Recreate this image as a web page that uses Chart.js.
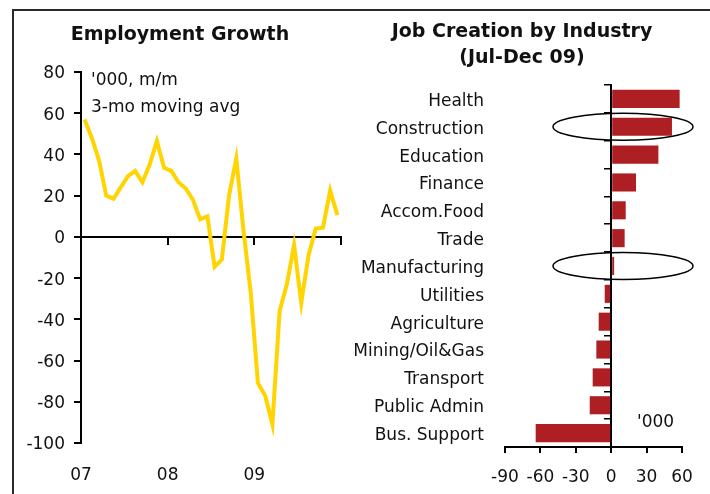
<!DOCTYPE html>
<html><head><meta charset="utf-8">
<script src="https://cdn.jsdelivr.net/npm/chart.js@4/dist/chart.umd.min.js"></script>
<style>
html,body{margin:0;padding:0;background:#fff;width:710px;height:494px;overflow:hidden;font-family:"DejaVu Sans",sans-serif;}
#frame{position:absolute;left:12px;top:9px;width:760px;height:520px;border-top:2px solid #2a2a2a;border-left:2px solid #2a2a2a;}
.c{position:absolute;top:0;width:355px;height:494px;}
.t{position:absolute;color:#111;white-space:nowrap;}
.title{font-weight:bold;font-size:19px;text-align:center;line-height:26px;}
.note{font-size:17px;line-height:27px;}
</style></head><body>
<div id="frame"></div>
<div class="c" style="left:0"><canvas id="c1" width="355" height="494"></canvas></div>
<div class="c" style="left:355px"><canvas id="c2" width="355" height="494"></canvas></div>
<div class="t title" style="left:0;width:360px;top:20px">Employment Growth</div>
<div class="t title" style="left:372px;width:300px;top:17px">Job Creation by Industry<br>(Jul-Dec 09)</div>
<div class="t note" style="left:91px;top:66px">'000, m/m<br>3-mo moving avg</div>
<div class="t note" style="left:637px;top:408px">'000</div>
<script>
// ---- data ----
const months = ['Jan 07','Feb 07','Mar 07','Apr 07','May 07','Jun 07','Jul 07','Aug 07','Sep 07','Oct 07','Nov 07','Dec 07',
  'Jan 08','Feb 08','Mar 08','Apr 08','May 08','Jun 08','Jul 08','Aug 08','Sep 08','Oct 08','Nov 08','Dec 08',
  'Jan 09','Feb 09','Mar 09','Apr 09','May 09','Jun 09','Jul 09','Aug 09','Sep 09','Oct 09','Nov 09','Dec 09'];
const employment = [57,48,37,20,18.5,24,29.5,32,26.5,35,46.5,33.5,
  32,26.5,23.5,18,8.5,10,-14.5,-11,20,38,3,-27,
  -71,-77,-91,-36,-23,-4,-32,-9,4,4.5,22.5,10.5];
const yearTicks = ['07','08','09'];
const empTicks = [-100,-80,-60,-40,-20,0,20,40,60,80];

const industries = ['Health','Construction','Education','Finance','Accom.Food','Trade','Manufacturing',
  'Utilities','Agriculture','Mining/Oil&Gas','Transport','Public Admin','Bus. Support'];
const jobs = [58,51.5,40,21,12.3,11.4,2.5,-5.5,-10.6,-12.6,-15.7,-18.2,-64];
const jobTicks = [-90,-60,-30,0,30,60];
const highlighted = ['Construction','Manufacturing'];

const FONT = {family:'DejaVu Sans', size:17};
const TXT = '#111';

// ---- left chart ----
new Chart(document.getElementById('c1'), {
  type:'line',
  data:{datasets:[{
    data: employment.map((v,i)=>({x:i+0.5, y:v})),
    borderColor:'#FFD400', borderWidth:4, pointRadius:0, tension:0,
    borderJoinStyle:'miter', xAxisID:'x', yAxisID:'y'
  }]},
  options:{
    responsive:false, animation:false, devicePixelRatio:1,
    layout:{padding:{left:0, top:72, right:14, bottom:0}},
    plugins:{legend:{display:false}, tooltip:{enabled:false}},
    scales:{
      x:{type:'linear', min:0, max:months.length, position:{y:0},
        ticks:{stepSize:12, display:false},
        grid:{drawOnChartArea:false, tickLength:7, color:'#000', lineWidth:2},
        border:{color:'#000', width:2}},
      x2:{type:'linear', min:0, max:months.length, position:'bottom',
        ticks:{stepSize:12, font:FONT, color:TXT, padding:14, maxRotation:0,
          callback:(v)=> yearTicks[v/12] ?? ''},
        grid:{display:false}, border:{display:false},
        afterFit:(s)=>{s.height=51;}},
      y:{min:empTicks[0], max:empTicks[empTicks.length-1],
        afterBuildTicks:(s)=>{s.ticks = empTicks.map(v=>({value:v}));},
        ticks:{font:FONT, color:TXT, padding:9, labelOffset:2},
        grid:{drawOnChartArea:false, tickLength:7, color:'#000', lineWidth:2},
        border:{color:'#000', width:2},
        afterFit:(s)=>{s.width=81;}}
    }
  }
});

// ---- right chart ----
const ellipsePlugin = {
  id:'ellipses',
  afterDatasetsDraw(chart){
    const ctx = chart.ctx, xs = chart.scales.x, ys = chart.scales.y;
    ctx.save();
    ctx.strokeStyle = '#000'; ctx.lineWidth = 1.5;
    highlighted.forEach(name=>{
      const cy = ys.getPixelForValue(industries.indexOf(name));
      const cx = xs.getPixelForValue(10);
      ctx.beginPath();
      ctx.ellipse(cx, cy, 70, 13.5, 0, 0, Math.PI*2);
      ctx.stroke();
    });
    ctx.restore();
  }
};

new Chart(document.getElementById('c2'), {
  type:'bar',
  data:{labels:industries, datasets:[{
    data:jobs, backgroundColor:'#AE1F24', borderWidth:0,
    barPercentage:0.65, categoryPercentage:1.0
  }]},
  options:{
    indexAxis:'y', responsive:false, animation:false, devicePixelRatio:1,
    layout:{padding:{left:0, top:85, right:28, bottom:0}},
    plugins:{legend:{display:false}, tooltip:{enabled:false}},
    scales:{
      x:{type:'linear', min:jobTicks[0], max:jobTicks[jobTicks.length-1],
        afterBuildTicks:(s)=>{s.ticks = jobTicks.map(v=>({value:v}));},
        ticks:{font:FONT, color:TXT, padding:14, maxRotation:0},
        grid:{drawOnChartArea:false, tickLength:6, color:'#000', lineWidth:2},
        border:{color:'#000', width:2},
        afterFit:(s)=>{s.height=47;}},
      y:{type:'category', position:'left',
        ticks:{font:FONT, color:TXT, padding:13, labelOffset:2.5},
        grid:{display:false}, border:{display:false},
        afterFit:(s)=>{s.width=150;}},
      y2:{type:'category', labels:industries, position:{x:0}, offset:true,
        ticks:{display:false},
        grid:{offset:true, drawOnChartArea:false, tickLength:6, color:'#000', lineWidth:1.5},
        border:{color:'#000', width:2}}
    }
  },
  plugins:[ellipsePlugin]
});
</script>
</body></html>
